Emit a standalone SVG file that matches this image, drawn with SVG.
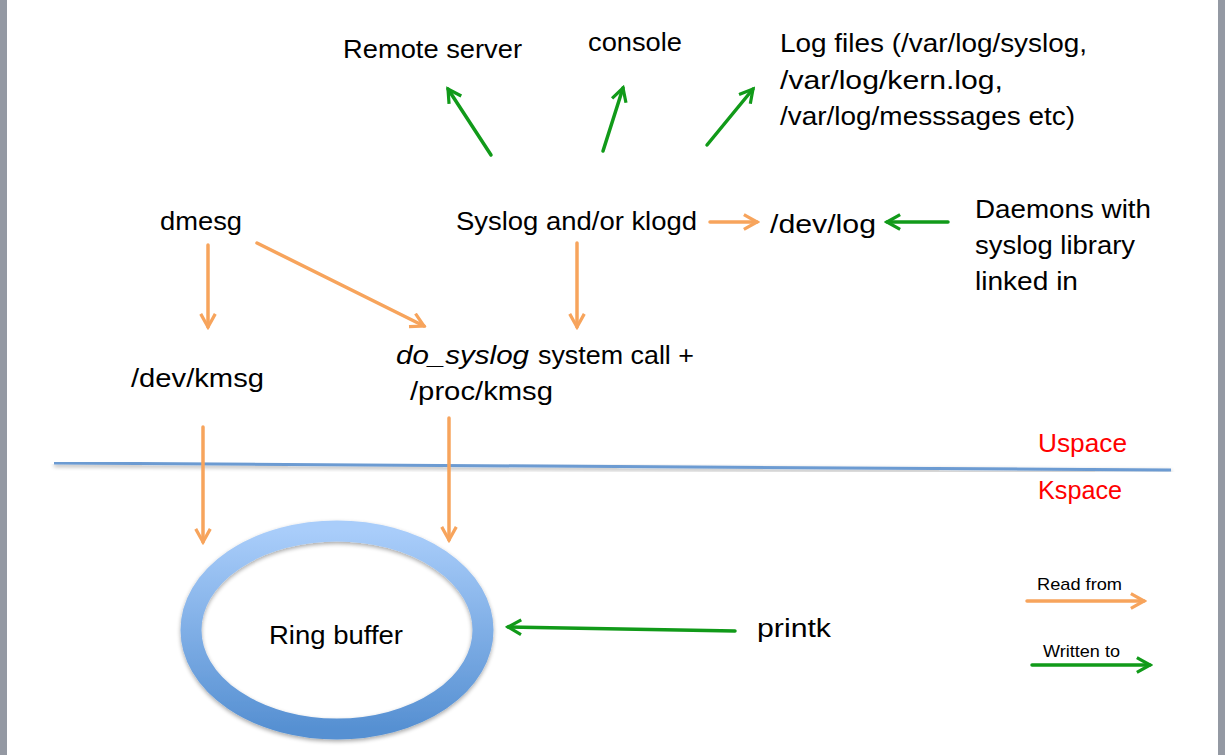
<svg xmlns="http://www.w3.org/2000/svg" width="1225" height="755" viewBox="0 0 1225 755">
<style>
.t{font-family:"Liberation Sans",Arial,sans-serif;font-size:26px;fill:#000}
.r{fill:#ff0000}
.s{font-size:17px}
.g{stroke:#119a19;stroke-width:3.5;fill:none;stroke-linecap:round}
.o{stroke:#f7a45c;stroke-width:3.5;fill:none;stroke-linecap:round}
</style>
<defs>
<marker id="mg" viewBox="0 0 12 12" refX="10" refY="6" markerWidth="5" markerHeight="5" markerUnits="strokeWidth" orient="auto">
<path d="M1,1 L10,6 L1,11" fill="none" stroke="#119a19" stroke-width="2.2" stroke-linejoin="miter"/>
</marker>
<marker id="mo" viewBox="0 0 12 12" refX="10" refY="6" markerWidth="5" markerHeight="5" markerUnits="strokeWidth" orient="auto">
<path d="M1,1 L10,6 L1,11" fill="none" stroke="#f7a45c" stroke-width="2.2" stroke-linejoin="miter"/>
</marker>
<linearGradient id="ring" x1="0" y1="0" x2="0" y2="1">
<stop offset="0" stop-color="#a9cdfa"/>
<stop offset="1" stop-color="#5690d2"/>
</linearGradient>
<filter id="sh" x="-10%" y="-10%" width="120%" height="130%">
<feGaussianBlur in="SourceAlpha" stdDeviation="2"/>
<feOffset dx="0" dy="2"/>
<feComponentTransfer><feFuncA type="linear" slope="0.35"/></feComponentTransfer>
<feMerge><feMergeNode/><feMergeNode in="SourceGraphic"/></feMerge>
</filter>
</defs>
<rect width="1225" height="755" fill="#fff"/>
<rect x="0" y="0" width="7" height="755" fill="#9499a3"/>
<rect x="1218" y="0" width="7" height="755" fill="#9499a3"/>

<line x1="54" y1="463" x2="1171" y2="470" stroke="#6c9bd2" stroke-width="3" filter="url(#sh)"/>

<g id="remote"><text class="t" x="343" y="58" textLength="179" lengthAdjust="spacingAndGlyphs">Remote server</text></g>
<g id="console"><text class="t" x="588" y="51" textLength="94" lengthAdjust="spacingAndGlyphs">console</text></g>
<g id="logfiles">
<text class="t" x="780" y="52" textLength="307" lengthAdjust="spacingAndGlyphs">Log files (/var/log/syslog,</text>
<text class="t" x="780" y="89" textLength="223" lengthAdjust="spacingAndGlyphs">/var/log/kern.log,</text>
<text class="t" x="780" y="125" textLength="295" lengthAdjust="spacingAndGlyphs">/var/log/messsages etc)</text>
</g>
<g id="dmesg"><text class="t" x="160" y="230" textLength="82" lengthAdjust="spacingAndGlyphs">dmesg</text></g>
<g id="syslog"><text class="t" x="456" y="230" textLength="241" lengthAdjust="spacingAndGlyphs">Syslog and/or klogd</text></g>
<g id="devlog"><text class="t" x="770" y="233" textLength="106" lengthAdjust="spacingAndGlyphs">/dev/log</text></g>
<g id="daemons">
<text class="t" x="975" y="218" textLength="176" lengthAdjust="spacingAndGlyphs">Daemons with</text>
<text class="t" x="975" y="254" textLength="160" lengthAdjust="spacingAndGlyphs">syslog library</text>
<text class="t" x="975" y="290" textLength="103" lengthAdjust="spacingAndGlyphs">linked in</text>
</g>
<g id="devkmsg"><text class="t" x="131" y="387" textLength="133" lengthAdjust="spacingAndGlyphs">/dev/kmsg</text></g>
<g id="dosyslog">
<text class="t" x="396" y="364" font-style="italic" textLength="133" lengthAdjust="spacingAndGlyphs">do_syslog</text>
<text class="t" x="538" y="364" textLength="156" lengthAdjust="spacingAndGlyphs">system call +</text>
<text class="t" x="410" y="400" textLength="143" lengthAdjust="spacingAndGlyphs">/proc/kmsg</text>
</g>
<g id="uspace"><text class="t r" x="1038" y="452" textLength="89" lengthAdjust="spacingAndGlyphs">Uspace</text></g>
<g id="kspace"><text class="t r" x="1038" y="499" textLength="84" lengthAdjust="spacingAndGlyphs">Kspace</text></g>
<g id="ringbuffer">
<ellipse cx="337" cy="630" rx="146" ry="99" fill="none" stroke="url(#ring)" stroke-width="21" filter="url(#sh)"/>
<text class="t" x="269" y="644" textLength="134" lengthAdjust="spacingAndGlyphs">Ring buffer</text>
</g>
<g id="printk"><text class="t" x="757" y="637" textLength="74" lengthAdjust="spacingAndGlyphs">printk</text></g>
<g id="legend">
<text class="t s" x="1037" y="590" textLength="85" lengthAdjust="spacingAndGlyphs">Read from</text>
<text class="t s" x="1043" y="657" textLength="77" lengthAdjust="spacingAndGlyphs">Written to</text>
</g>

<g id="connectors">
<line class="g" x1="491" y1="155" x2="448" y2="89" marker-end="url(#mg)"/>
<line class="g" x1="603" y1="151" x2="623" y2="88" marker-end="url(#mg)"/>
<line class="g" x1="707" y1="145" x2="753" y2="89" marker-end="url(#mg)"/>
<line class="o" x1="710" y1="222" x2="757" y2="222" marker-end="url(#mo)"/>
<line class="g" x1="948" y1="222" x2="887" y2="222" marker-end="url(#mg)"/>
<line class="o" x1="208" y1="245" x2="208" y2="327" marker-end="url(#mo)"/>
<line class="o" x1="257" y1="243" x2="424" y2="326" marker-end="url(#mo)"/>
<line class="o" x1="577" y1="243" x2="577" y2="327" marker-end="url(#mo)"/>
<line class="o" x1="203" y1="427" x2="203" y2="542" marker-end="url(#mo)"/>
<line class="o" x1="449" y1="418" x2="449" y2="540" marker-end="url(#mo)"/>
<line class="g" x1="735" y1="631" x2="508" y2="627" marker-end="url(#mg)"/>
<line class="o" x1="1027" y1="601" x2="1144" y2="601" marker-end="url(#mo)"/>
<line class="g" x1="1032" y1="665" x2="1150" y2="665" marker-end="url(#mg)"/>
</g>
</svg>
